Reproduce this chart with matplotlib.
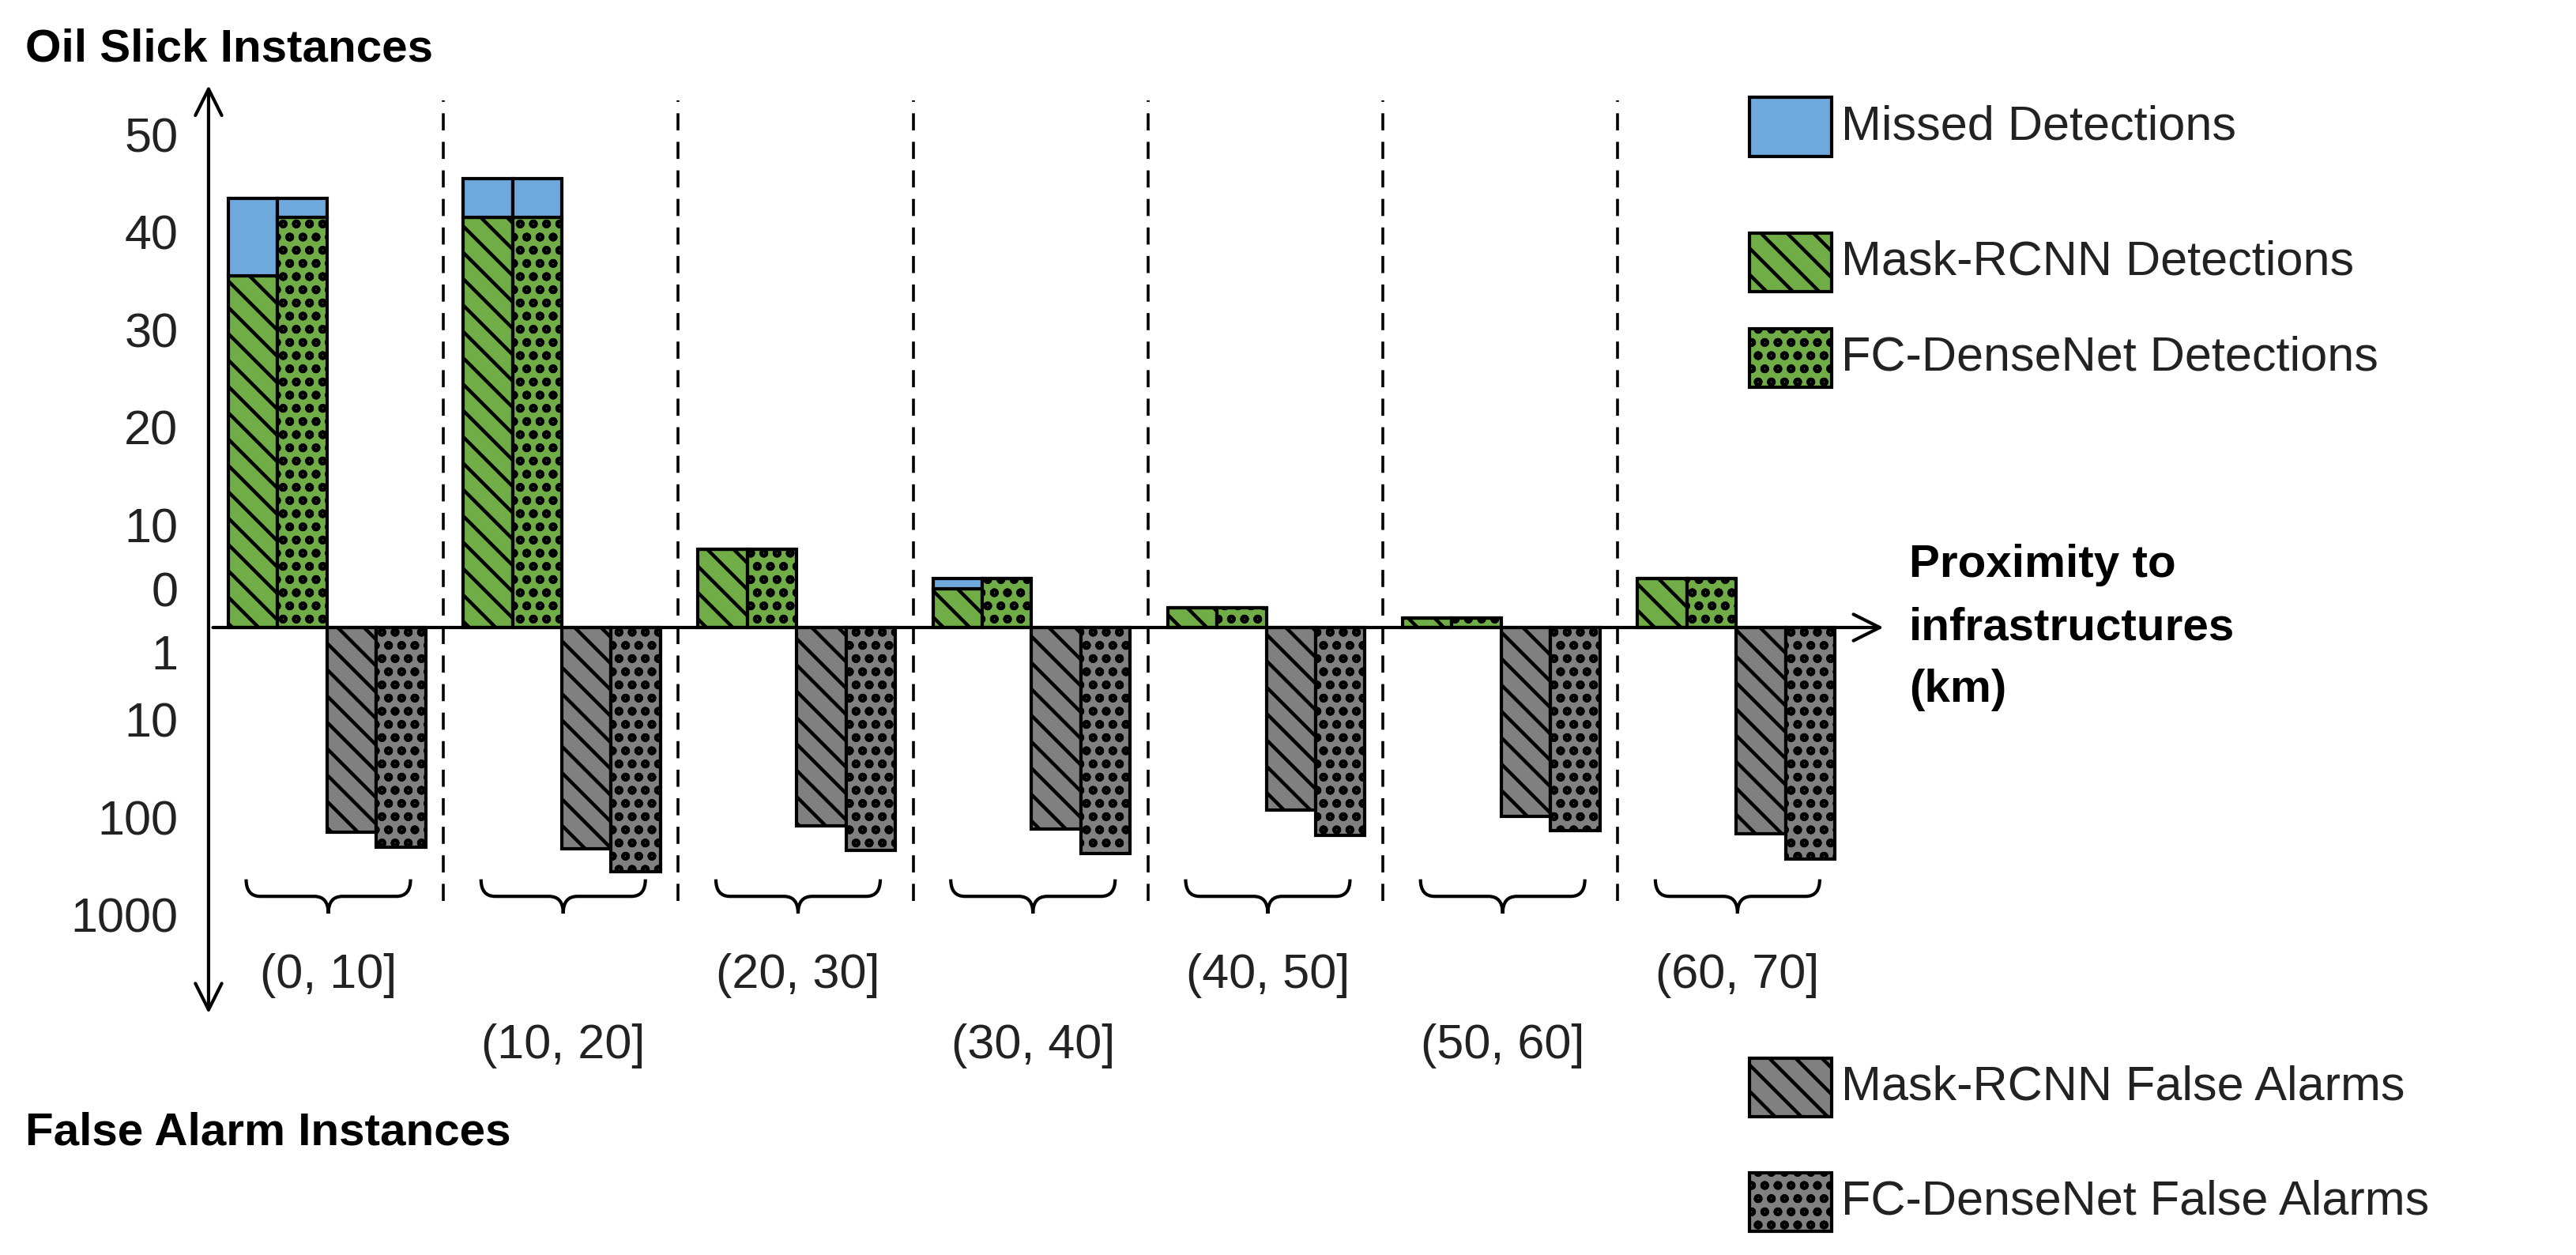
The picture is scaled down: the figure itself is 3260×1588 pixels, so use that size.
import numpy as np
import matplotlib.pyplot as plt
from matplotlib.path import Path
from matplotlib.patches import PathPatch, Rectangle

plt.rcParams['font.family'] = ['Liberation Sans', 'DejaVu Sans']
plt.rcParams['hatch.linewidth'] = 1.6

bins = ['(0, 10]', '(10, 20]', '(20, 30]', '(30, 40]', '(40, 50]', '(50, 60]', '(60, 70]']
mask_det = [36, 42, 8, 4, 2, 1, 5]
mask_missed = [8, 4, 0, 1, 0, 0, 0]
fc_det = [42, 42, 8, 5, 2, 1, 5]
fc_missed = [2, 4, 0, 0, 0, 0, 0]
mask_fa = [126, 185, 108, 117, 74, 86, 131]
fc_fa = [178, 316, 192, 208, 135, 121, 234]

green = '#70AD47'
blue = '#6FA8DC'
gray = '#808080'
decade = 10.0  # one log decade of false alarms = 10 units on the detection scale

fig = plt.figure(figsize=(16.3, 7.94), dpi=200)
ax = fig.add_axes([0, 0, 1, 1])
ax.set_xlim(-0.888, 10.08)
ax.set_ylim(-64.3, 64.3)
ax.axis('off')

x = np.arange(len(bins))
w = 0.21
off = [0.084, 0.294, 0.504, 0.714]
kw = dict(width=w, align='edge', edgecolor='black', linewidth=1.5)

ax.bar(x + off[0], mask_det, color=green, hatch='\\\\', **kw)
ax.bar(x + off[0], mask_missed, bottom=mask_det, color=blue, **kw)
ax.bar(x + off[1], fc_det, color=green, hatch='oo', **kw)
ax.bar(x + off[1], fc_missed, bottom=fc_det, color=blue, **kw)
ax.bar(x + off[2], -decade * np.log10(mask_fa), color=gray, hatch='\\\\', **kw)
ax.bar(x + off[3], -decade * np.log10(fc_fa), color=gray, hatch='oo', **kw)

# group separators
for i in range(1, len(bins)):
    ax.plot([i, i], [-28, 54], color='black', lw=1.3, ls=(0, (6, 4)))

# axes arrows
ax.annotate('', xy=(0, 56), xytext=(0, -40),
            arrowprops=dict(arrowstyle='<->', lw=1.5, mutation_scale=30))
ax.annotate('', xy=(7.15, 0), xytext=(0, 0),
            arrowprops=dict(arrowstyle='->', lw=1.5, mutation_scale=30))

# tick labels
fs = 22
for v in [10, 20, 30, 40, 50]:
    ax.text(-0.13, v, str(v), ha='right', va='center', fontsize=fs, color='#222222')
ax.text(-0.13, 3.4, '0', ha='right', va='center', fontsize=fs, color='#222222')
ax.text(-0.13, -3.0, '1', ha='right', va='center', fontsize=fs, color='#222222')
for k, lab in [(1, '10'), (2, '100'), (3, '1000')]:
    ax.text(-0.13, -decade * k, lab, ha='right', va='center', fontsize=fs, color='#222222')

# braces and bin labels
def brace(x0, x1, ytop, ybot):
    xm = (x0 + x1) / 2
    ym = (ytop + ybot) / 2
    verts = [(x0, ytop), (x0, ym), (x0 + 0.06, ym),
             (xm - 0.06, ym), (xm, ym), (xm, ybot),
             (xm, ym), (xm + 0.06, ym),
             (x1 - 0.06, ym), (x1, ym), (x1, ytop)]
    codes = [Path.MOVETO, Path.CURVE3, Path.CURVE3,
             Path.LINETO, Path.CURVE3, Path.CURVE3,
             Path.CURVE3, Path.CURVE3,
             Path.LINETO, Path.CURVE3, Path.CURVE3]
    ax.add_patch(PathPatch(Path(verts, codes), fill=False, lw=1.5))

for i, lab in enumerate(bins):
    brace(i + 0.16, i + 0.86, -25.8, -29.3)
    yl = -35.7 if i % 2 == 0 else -42.9
    ax.text(i + 0.51, yl, lab, ha='center', va='center', fontsize=fs, color='#222222')

# titles
ax.text(-0.78, 59.2, 'Oil Slick Instances', fontsize=21, fontweight='bold', va='center')
ax.text(-0.78, -51.8, 'False Alarm Instances', fontsize=21, fontweight='bold', va='center')
ax.text(7.24, 0, 'Proximity to\ninfrastructures\n(km)', fontsize=21, fontweight='bold',
        va='center', ha='left', linespacing=1.6)

# legend
leg = [(51.3, blue, None, 'Missed Detections'),
       (37.4, green, '\\\\', 'Mask-RCNN Detections'),
       (27.6, green, 'oo', 'FC-DenseNet Detections'),
       (-47.1, gray, '\\\\', 'Mask-RCNN False Alarms'),
       (-58.9, gray, 'oo', 'FC-DenseNet False Alarms')]
for yc, col, h, lab in leg:
    ax.add_patch(Rectangle((6.56, yc - 3.0), 0.35, 6.0, facecolor=col, hatch=h,
                           edgecolor='black', lw=1.5))
    ax.text(6.95, yc, lab, fontsize=fs, va='center', color='#222222')

fig.savefig('out.png', dpi=200)
